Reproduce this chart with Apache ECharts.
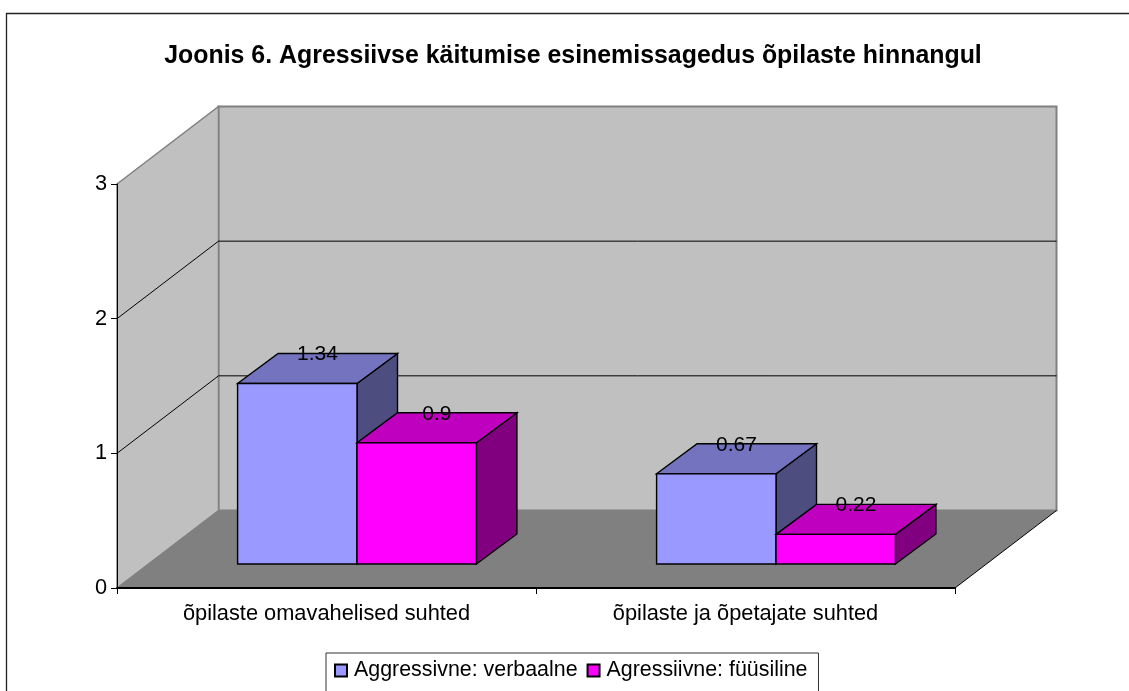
<!DOCTYPE html>
<html><head><meta charset="utf-8">
<style>html,body{margin:0;padding:0;background:#fff;overflow:hidden}#c{width:1129px;height:691px}</style>
<script src="https://cdn.jsdelivr.net/npm/echarts@6/dist/echarts.min.js"></script>
</head><body><div id="c"></div>
<script>
const titleText = 'Joonis 6. Agressiivse käitumise esinemissagedus õpilaste hinnangul';
const categories = ['õpilaste omavahelised suhted', 'õpilaste ja õpetajate suhted'];
const verbalName = 'Aggressivne: verbaalne';
const physicalName = 'Agressiivne: füüsiline';
const verbalValues = [1.34, 0.67];
const physicalValues = [0.9, 0.22];
const yMax = 3;
const yGridValues = [1, 2];

const FONT = '"Liberation Sans", Arial, sans-serif';
const WALL = {dx: 101.5, dy: -77.5};
const BAR = {gapX: 30.5, gapY: -24, dx: 40.5, dy: -30, widthRatio: 0.285};

const chart = echarts.init(document.getElementById('c'), null, {renderer: 'canvas'});

function poly(points, fill, stroke, lw) {
  return {type: 'polygon', shape: {points}, style: {fill, stroke: stroke || null, lineWidth: lw || 0}};
}
function line(p, q, stroke, lw) {
  return {type: 'line', shape: {x1: p[0], y1: p[1], x2: q[0], y2: q[1]}, style: {stroke, lineWidth: lw, fill: null}};
}

function renderWalls(params, api) {
  const cs = params.coordSys;
  const L = cs.x, R = cs.x + cs.width;
  const y0 = api.coord([0, 0])[1], yT = api.coord([0, yMax])[1];
  const d = WALL;
  const kids = [
    poly([[L + d.dx, yT + d.dy], [R + d.dx, yT + d.dy], [R + d.dx, y0 + d.dy], [L + d.dx, y0 + d.dy]], '#C0C0C0', '#808080', 2),
    poly([[L, yT], [L + d.dx, yT + d.dy], [L + d.dx, y0 + d.dy], [L, y0]], '#C0C0C0', '#808080', 1.5),
    poly([[L, y0], [L + d.dx, y0 + d.dy], [R + d.dx, y0 + d.dy], [R, y0]], '#808080'),
    line([R, y0], [R + d.dx, y0 + d.dy], '#000', 1)
  ];
  yGridValues.forEach(v => {
    const y = api.coord([0, v])[1];
    kids.push(line([L, y], [L + d.dx, y + d.dy], '#000', 1));
    kids.push(line([L + d.dx, y + d.dy], [R + d.dx, y + d.dy], '#000', 1));
  });
  return {type: 'group', children: kids};
}

function barRenderer(side, colors) {
  return function (params, api) {
    const cat = api.value(0), val = api.value(1);
    const band = api.size([1, 0])[0];
    const w = band * BAR.widthRatio;
    const c = api.coord([cat, 0]);
    const top = api.coord([cat, val])[1];
    const x0 = c[0] + BAR.gapX + (side === 0 ? -w : 0);
    const x1 = x0 + w;
    const yB = c[1] + BAR.gapY;
    const yT = top + BAR.gapY;
    const dx = BAR.dx, dy = BAR.dy;
    const st = '#000', lw = 1.4;
    return {type: 'group', children: [
      poly([[x1, yB], [x1 + dx, yB + dy], [x1 + dx, yT + dy], [x1, yT]], colors.side, st, lw),
      poly([[x0, yT], [x0 + dx, yT + dy], [x1 + dx, yT + dy], [x1, yT]], colors.top, st, lw),
      poly([[x0, yB], [x1, yB], [x1, yT], [x0, yT]], colors.front, st, lw),
      {type: 'text', z2: 50, style: {text: String(val), x: (x0 + x1) / 2 + dx / 2, y: yT + dy + 1,
        align: 'center', verticalAlign: 'middle', fill: '#000', font: '21px ' + FONT}}
    ]};
  };
}

const blue = {front: '#9999FF', top: '#7373BF', side: '#4D4D80'};
const pink = {front: '#FF00FF', top: '#BF00BF', side: '#800080'};

chart.setOption({
  animation: false,
  backgroundColor: '#fff',
  title: {text: titleText, left: 568, top: 39, textAlign: 'center',
    textStyle: {fontFamily: FONT, fontWeight: 'bold', fontSize: 24.9, color: '#000'}},
  grid: {left: 117, right: 174, top: 184, bottom: 103},
  xAxis: {type: 'category', data: categories, z: 5,
    axisLine: {lineStyle: {color: '#000', width: 2}},
    axisTick: {show: true, length: 6, alignWithLabel: false, lineStyle: {color: '#000', width: 1}},
    axisLabel: {fontFamily: FONT, fontSize: 21.8, color: '#000', margin: 15, interval: 0},
    splitLine: {show: false}},
  yAxis: {type: 'value', min: 0, max: yMax, interval: 1, z: 5,
    axisLine: {show: true, lineStyle: {color: '#000', width: 1}},
    axisTick: {show: true, length: 6, lineStyle: {color: '#000', width: 1}},
    axisLabel: {fontFamily: FONT, fontSize: 21.8, color: '#000', margin: 10},
    splitLine: {show: false}},
  legend: {left: 326, top: 653, orient: 'horizontal', icon: 'rect',
    data: [verbalName, physicalName], selectedMode: false,
    itemWidth: 12, itemHeight: 12, itemGap: 9,
    padding: [7, 11, 26, 8], borderColor: '#333', borderWidth: 1, backgroundColor: '#fff',
    textStyle: {fontFamily: FONT, fontSize: 21.4, color: '#000', padding: [0, 0, 4, 2]}},
  graphic: [{type: 'rect', silent: true, z: 0, shape: {x: 6.5, y: 13.5, width: 1300, height: 800},
    style: {fill: null, stroke: '#222', lineWidth: 1.3}}],
  series: [
    {type: 'custom', name: 'walls', z: 1, silent: true, renderItem: renderWalls, data: [[0, 0]], encode: {x: 0, y: 1}},
    {type: 'custom', name: verbalName, z: 2, renderItem: barRenderer(0, blue),
      itemStyle: {color: blue.front, borderColor: '#000', borderWidth: 1},
      data: verbalValues.map((v, i) => [i, v]), encode: {x: 0, y: 1}},
    {type: 'custom', name: physicalName, z: 3, renderItem: barRenderer(1, pink),
      itemStyle: {color: pink.front, borderColor: '#000', borderWidth: 1},
      data: physicalValues.map((v, i) => [i, v]), encode: {x: 0, y: 1}}
  ]
});
</script></body></html>
